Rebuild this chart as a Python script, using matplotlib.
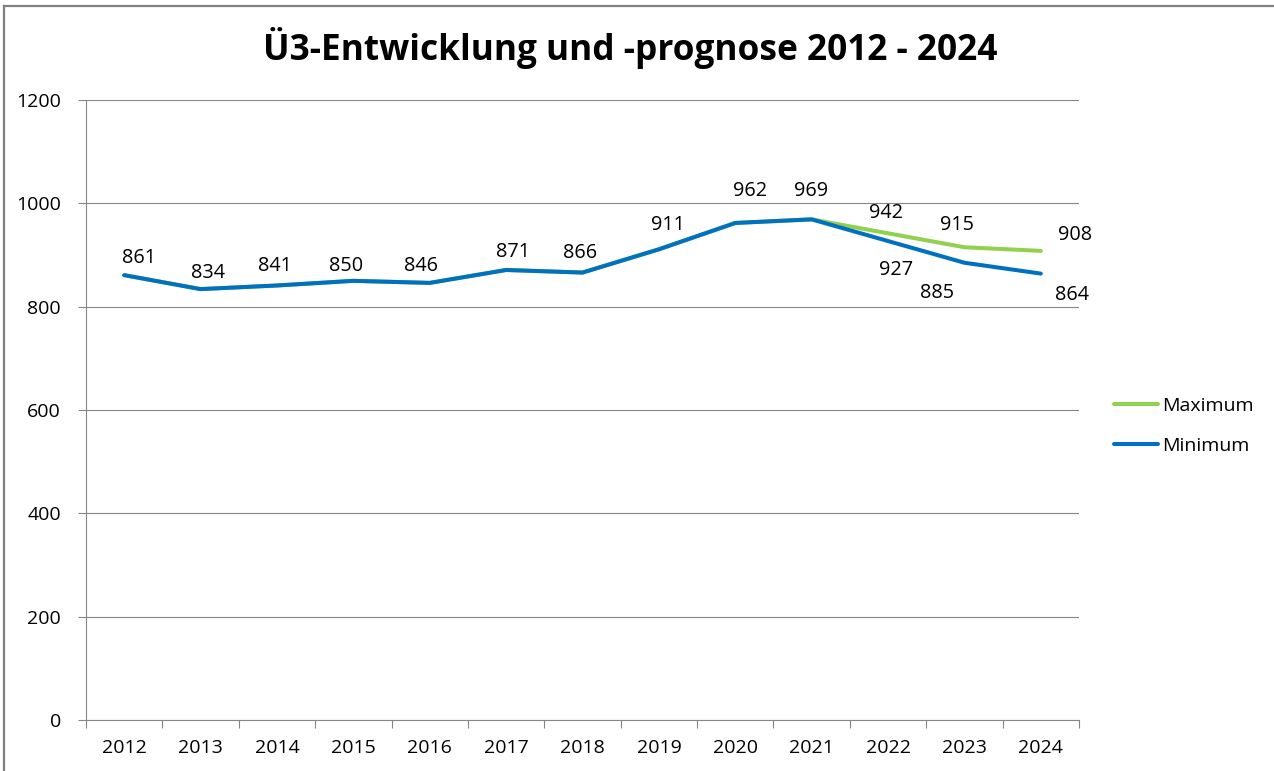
import matplotlib
matplotlib.use('Agg')
import matplotlib.pyplot as plt
from matplotlib.lines import Line2D
import numpy as np

# data
years = ['2012', '2013', '2014', '2015', '2016', '2017', '2018',
         '2019', '2020', '2021', '2022', '2023', '2024']
maximum = [861, 834, 841, 850, 846, 871, 866, 911, 962, 969, 942, 915, 908]
minimum = [861, 834, 841, 850, 846, 871, 866, 911, 962, 969, 927, 885, 864]

# label offsets in pixels (dx, dy), Excel had them hand placed
max_off = [(15, 17), (7, 16), (-2, 19), (-7, 15), (-9, 17), (7, 18), (-2, 20),
           (9, 24), (15, 32), (-1, 28), (-2, 20), (-7, 22), (34, 16)]
min_off = {10: (8, -29), 11: (-27, -30), 12: (31, -21)}

green = '#92D050'
blue = '#0070C0'
grid_c = '#868686'
font = 'Open Sans'

plt.rcParams['font.family'] = [font, 'DejaVu Sans']

fig = plt.figure(figsize=(12.74, 7.71), dpi=100)
W, H = 1274.0, 771.0
ax = fig.add_axes([86 / W, 1 - 720 / H, (1079 - 86) / W, (720 - 100) / H])

x = np.arange(len(years))
ax.plot(x, maximum, color=green, lw=2.9, solid_capstyle='round', label='Maximum', zorder=3)
ax.plot(x, minimum, color=blue, lw=2.9, solid_capstyle='round', label='Minimum', zorder=4)

px = 72.0 / 100  # pixels -> points
for i, v in enumerate(maximum):
    dx, dy = max_off[i]
    ax.annotate(str(v), (x[i], v), xytext=(dx * px, dy * px), textcoords='offset points',
                ha='center', va='center', fontsize=14.3, color='#000000', zorder=5)
for i, (dx, dy) in min_off.items():
    ax.annotate(str(minimum[i]), (x[i], minimum[i]), xytext=(dx * px, dy * px),
                textcoords='offset points', ha='center', va='center', fontsize=14.3,
                color='#000000', zorder=5)

ax.set_xlim(-0.5, len(years) - 0.5)
ax.set_ylim(0, 1200)
ax.set_yticks(range(0, 1201, 200))
ax.yaxis.grid(True, color=grid_c, lw=0.8)
ax.set_axisbelow(True)

ax.set_xticks(x)
ax.set_xticklabels(years)
ax.set_xticks(np.arange(-0.5, len(years)), minor=True)
ax.tick_params(axis='x', which='major', length=0, pad=14, labelsize=14)
ax.tick_params(axis='x', which='minor', length=6, width=0.8, color=grid_c, direction='out')
ax.tick_params(axis='y', length=6, width=0.8, color=grid_c, direction='out', pad=12, labelsize=14)

for s in ['top', 'right']:
    ax.spines[s].set_visible(False)
for s in ['left', 'bottom']:
    ax.spines[s].set_color(grid_c)
    ax.spines[s].set_linewidth(0.8)

handles = [Line2D([], [], color=green, lw=2.9, solid_capstyle='round'),
           Line2D([], [], color=blue, lw=2.9, solid_capstyle='round')]
ax.legend(handles, ['Maximum', 'Minimum'], loc='center left', bbox_to_anchor=(1.035, 0.474),
          frameon=False, fontsize=14, handlelength=2.3, handletextpad=0.2,
          labelspacing=1.15, borderpad=0, borderaxespad=0)

fig.text(630 / W, 1 - 48 / H, 'Ü3-Entwicklung und -prognose 2012 - 2024',
         ha='center', va='center', fontsize=25.4, fontweight='bold', family=[font, 'DejaVu Sans'])

# chart border (only left and top edges visible in the screenshot)
fig.add_artist(Line2D([4 / W, 4 / W], [0, 1 - 6 / H], color='#808080', lw=1.6))
fig.add_artist(Line2D([4 / W, 1], [1 - 6 / H, 1 - 6 / H], color='#808080', lw=1.6))

fig.savefig('out.png', dpi=100)
